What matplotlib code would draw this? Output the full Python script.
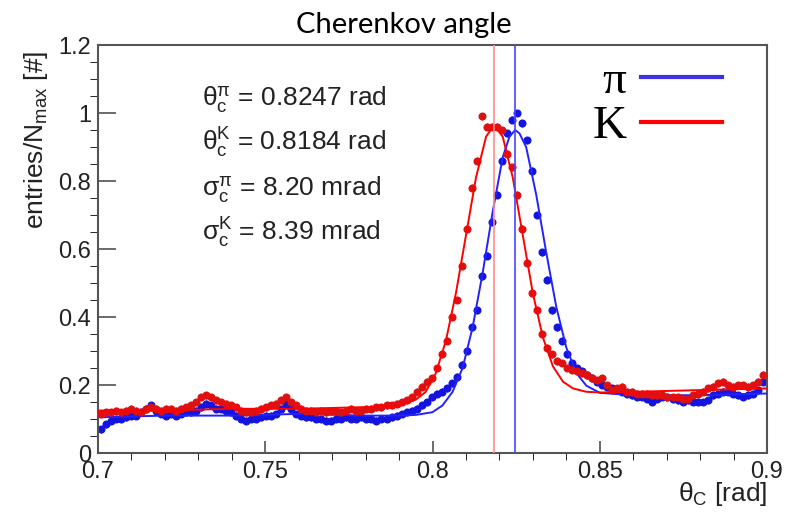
import numpy as np
import matplotlib.pyplot as plt
from matplotlib.lines import Line2D

# histogram bins: 0.7 .. 0.9 rad, 133 bins
bin_start = 0.7
bin_width = 0.0015

pi_entries = [0.07, 0.085, 0.095, 0.10, 0.10, 0.105, 0.11, 0.11, 0.12, 0.13,
              0.14, 0.125, 0.115, 0.11, 0.115, 0.11, 0.115, 0.12, 0.12, 0.125,
              0.135, 0.145, 0.14, 0.13, 0.13, 0.125, 0.12, 0.11, 0.10, 0.095,
              0.10, 0.10, 0.105, 0.11, 0.11, 0.115, 0.13, 0.145, 0.13, 0.115,
              0.11, 0.105, 0.105, 0.10, 0.10, 0.095, 0.095, 0.10, 0.10, 0.105,
              0.10, 0.10, 0.105, 0.10, 0.10, 0.095, 0.10, 0.10, 0.105, 0.11,
              0.115, 0.12, 0.125, 0.13, 0.14, 0.15, 0.165, 0.175, 0.18, 0.19,
              0.205, 0.225, 0.26, 0.30, 0.37, 0.42, 0.52, 0.58, 0.68, 0.76,
              0.86, 0.94, 0.98, 1.0, 0.97, 0.92, 0.83, 0.70, 0.59, 0.51,
              0.42, 0.37, 0.33, 0.29, 0.265, 0.25, 0.24, 0.23, 0.22, 0.21,
              0.20, 0.195, 0.19, 0.185, 0.18, 0.175, 0.17, 0.165, 0.165, 0.16,
              0.15, 0.16, 0.165, 0.165, 0.16, 0.155, 0.15, 0.155, 0.15, 0.15,
              0.15, 0.155, 0.17, 0.175, 0.18, 0.18, 0.175, 0.17, 0.165, 0.17,
              0.175, 0.185, 0.21]

k_entries = [0.115, 0.12, 0.12, 0.125, 0.12, 0.125, 0.13, 0.125, 0.12, 0.13,
             0.135, 0.13, 0.125, 0.13, 0.13, 0.125, 0.13, 0.135, 0.14, 0.15,
             0.165, 0.17, 0.165, 0.155, 0.15, 0.145, 0.14, 0.135, 0.125, 0.12,
             0.12, 0.125, 0.13, 0.135, 0.14, 0.145, 0.155, 0.165, 0.15, 0.14,
             0.13, 0.125, 0.125, 0.12, 0.125, 0.12, 0.125, 0.125, 0.12, 0.125,
             0.13, 0.125, 0.125, 0.13, 0.13, 0.135, 0.135, 0.14, 0.14, 0.145,
             0.15, 0.155, 0.165, 0.18, 0.195, 0.21, 0.22, 0.25, 0.29, 0.33,
             0.40, 0.45, 0.55, 0.66, 0.78, 0.86, 0.99, 0.96, 0.96, 0.96,
             0.95, 0.88, 0.84, 0.76, 0.66, 0.56, 0.47, 0.42, 0.35, 0.31,
             0.29, 0.27, 0.265, 0.25, 0.245, 0.24, 0.235, 0.23, 0.22, 0.215,
             0.22, 0.20, 0.185, 0.19, 0.195, 0.18, 0.18, 0.175, 0.175, 0.175,
             0.17, 0.17, 0.17, 0.165, 0.165, 0.165, 0.16, 0.16, 0.17, 0.175,
             0.18, 0.19, 0.195, 0.205, 0.21, 0.20, 0.195, 0.20, 0.20, 0.195,
             0.20, 0.21, 0.23]

# fit curves
pi_fit_x = [0.700, 0.720, 0.740, 0.760, 0.780, 0.790, 0.795, 0.800, 0.803, 0.806,
            0.809, 0.812, 0.815, 0.818, 0.821, 0.823, 0.8247, 0.826, 0.828, 0.831,
            0.834, 0.837, 0.840, 0.843, 0.846, 0.850, 0.860, 0.880, 0.900]
pi_fit_y = [0.105, 0.11, 0.11, 0.115, 0.11, 0.11, 0.112, 0.12, 0.14, 0.18,
            0.25, 0.37, 0.53, 0.71, 0.87, 0.93, 0.95, 0.94, 0.90, 0.76,
            0.59, 0.43, 0.31, 0.235, 0.198, 0.177, 0.17, 0.17, 0.175]
k_fit_x = [0.700, 0.720, 0.740, 0.760, 0.780, 0.790, 0.795, 0.798, 0.801, 0.804,
           0.807, 0.810, 0.813, 0.816, 0.8184, 0.821, 0.824, 0.827, 0.830, 0.833,
           0.836, 0.839, 0.842, 0.846, 0.850, 0.860, 0.880, 0.900]
k_fit_y = [0.125, 0.125, 0.13, 0.13, 0.135, 0.138, 0.157, 0.18, 0.235, 0.33,
           0.47, 0.64, 0.81, 0.93, 0.965, 0.93, 0.81, 0.64, 0.47, 0.34,
           0.255, 0.21, 0.19, 0.18, 0.178, 0.18, 0.185, 0.19]

theta_pi = 0.8247
theta_k = 0.8184
info_lines = [r'$\mathrm{\theta}_{\mathrm{c}}^{\mathrm{\pi}}$ = 0.8247 rad',
              r'$\mathrm{\theta}_{\mathrm{c}}^{\mathrm{K}}$ = 0.8184 rad',
              r'$\mathrm{\sigma}_{\mathrm{c}}^{\mathrm{\pi}}$ = 8.20 mrad',
              r'$\mathrm{\sigma}_{\mathrm{c}}^{\mathrm{K}}$ = 8.39 mrad']
xticks = [0.7, 0.75, 0.8, 0.85, 0.9]
xtick_labels = ['0.7', '0.75', '0.8', '0.85', '0.9']
yticks = [0, 0.2, 0.4, 0.6, 0.8, 1.0, 1.2]
ytick_labels = ['0', '0.2', '0.4', '0.6', '0.8', '1', '1.2']

plt.rcParams['font.family'] = ['Liberation Sans', 'DejaVu Sans']
plt.rcParams['mathtext.fontset'] = 'custom'
plt.rcParams['mathtext.rm'] = 'Liberation Sans'
plt.rcParams['mathtext.it'] = 'Liberation Sans'

blue = '#1414e0'
red = '#e01010'

fig = plt.figure(figsize=(7.94, 5.13), dpi=100)
ax = fig.add_axes([98 / 794, 1 - 453 / 513, 669 / 794, 408 / 513])

centers = bin_start + bin_width / 2 + bin_width * np.arange(len(pi_entries))

ax.errorbar(centers, pi_entries, xerr=bin_width / 2, yerr=0.01, fmt='o', ms=4.8,
            color=blue, mec=blue, elinewidth=1, capsize=0, zorder=2)
ax.plot(pi_fit_x, pi_fit_y, color='#2222ff', lw=1.4, zorder=3)
ax.errorbar(centers, k_entries, xerr=bin_width / 2, yerr=0.01, fmt='o', ms=4.8,
            color=red, mec=red, elinewidth=1, capsize=0, zorder=4)
ax.plot(k_fit_x, k_fit_y, color='#ff0000', lw=1.4, zorder=5)

ax.axvline(theta_k, color='#ff8c8c', lw=1.2, zorder=6)
ax.axvline(theta_pi, color='#4646ff', lw=1.2, zorder=6)

ax.set_xlim(0.7, 0.9)
ax.set_ylim(0, 1.2)
ax.set_xticks(xticks)
ax.set_xticklabels(xtick_labels)
ax.set_yticks(yticks)
ax.set_yticklabels(ytick_labels)
ax.set_xticks(np.arange(0.71, 0.9, 0.01), minor=True)
ax.set_yticks(np.arange(0.05, 1.2, 0.05), minor=True)

ax.tick_params(direction='in', top=False, right=False, colors='#444444',
               labelcolor='#222222', labelsize=17, width=1.1)
ax.tick_params(axis='y', which='major', length=13, pad=5)
ax.tick_params(axis='y', which='minor', length=6)
ax.tick_params(axis='x', which='major', length=8.5, pad=6)
ax.tick_params(axis='x', which='minor', length=5)
for sp in ax.spines.values():
    sp.set_color('#555555')
    sp.set_linewidth(1.5)

ax.set_ylabel(r'entries/N$_{\mathrm{max}}$ [#]', fontsize=19, color='#222222', loc='top')
ax.yaxis.set_label_coords(-0.072, 0.985)
ax.set_xlabel(r'$\mathrm{\theta}_{\mathrm{C}}$ [rad]', fontsize=19, color='#222222', loc='right')
ax.xaxis.set_label_coords(1.0, -0.066)

for i, line in enumerate(info_lines):
    ax.text(0.155, 0.8505 - i * 0.1103, line, transform=ax.transAxes,
            fontsize=19, color='#222222', va='baseline')

handles = [Line2D([], [], color='#3f30e0', lw=3),
           Line2D([], [], color='#ff0000', lw=3)]
fig.legend(handles, ['π', 'K'], loc='upper right', bbox_to_anchor=(722 / 794, 1 - 60 / 513),
           frameon=False, markerfirst=False, handlelength=1.72, handletextpad=0.3,
           labelspacing=0.05, borderpad=0, borderaxespad=0,
           prop={'family': 'Liberation Serif', 'size': 34})

fig.text(404 / 794, 1 - 33 / 513, 'Cherenkov angle', ha='center', va='baseline',
         fontsize=21, family='Lato', color='black')

fig.savefig('out.png', dpi=100)
